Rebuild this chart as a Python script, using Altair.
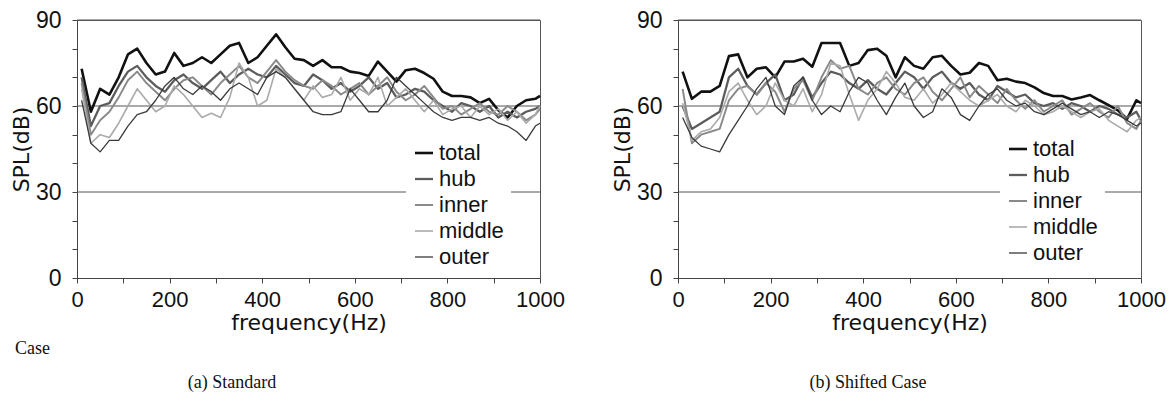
import altair as alt
import pandas as pd

FREQ = list(range(10, 1000, 20)) + [1000]
SERIES = ["total", "hub", "inner", "middle", "outer"]
COLORS = ["#111111", "#5c5c5c", "#8a8a8a", "#ababab", "#3a3a3a"]
WIDTHS = [2.6, 1.3, 1.3, 1.3, 1.7]
GRID = [30, 60, 90]
X_TICKS = list(range(0, 1001, 100))
Y_TICKS = list(range(0, 91, 10))

# (a) Standard
A_TOTAL = [73, 58, 66, 64, 70, 78, 80, 75, 71, 72,
           78.5, 74, 75, 77, 75, 78, 81, 82, 75, 77,
           81, 85, 80.5, 76.5, 76, 74, 76, 73.5, 73.5, 72,
           71.5, 70.5, 75.5, 72, 68.5, 72.5, 73, 71.5, 69.5, 65,
           63.5, 63.5, 63, 61, 62.5, 58.5, 56, 60, 62, 62.5, 63.5]
A_HUB = [70, 53, 60, 61, 67, 72, 74, 70, 67, 65,
         69, 71, 68, 66, 69, 72, 68, 71, 73, 71,
         70, 74, 71, 68, 67, 71, 69, 66, 68, 65,
         67, 70, 66, 68, 63, 64, 66, 65, 62, 60,
         58, 61, 60, 58, 60, 56, 58, 56, 58, 59, 60]
A_INNER = [68, 50, 55, 58, 63, 69, 72, 68, 65, 62,
           66, 69, 70, 67, 64, 68, 71, 74, 70, 68,
           72, 76, 72, 69, 67, 66, 69, 67, 64, 66,
           68, 64, 67, 70, 65, 62, 64, 67, 63, 59,
           60, 57, 59, 61, 58, 57, 60, 58, 55, 57, 59]
A_MIDDLE = [66, 47, 50, 49, 54, 60, 66, 62, 58, 60,
            67, 64, 60, 56, 57.5, 56, 63, 75, 70, 60,
            62, 73, 70, 66, 62, 67, 63, 64, 70, 62,
            66, 64, 70, 60, 63, 66, 62, 58, 62, 57,
            59, 60, 56, 60, 57, 59, 55, 58, 54, 57, 60]
A_OUTER = [62, 47, 44, 48, 48, 53, 57, 58, 62, 67,
           70, 66, 64, 67, 65, 62, 66, 68, 66, 64,
           70, 72, 70, 66, 62, 58, 57, 57, 58, 66,
           62, 58, 58, 62, 70, 67, 64, 61, 58, 56,
           55, 56, 56, 55, 56, 54, 53, 51, 48, 53, 54]

# (b) Shifted Case
B_TOTAL = [72, 62.5, 65, 65, 67, 77.4, 78, 70, 73, 73.5,
           70, 75.5, 75.5, 76.5, 73.7, 82, 82, 82, 74, 75,
           79.5, 80, 77.5, 70, 77, 74, 73, 77, 77.5, 74,
           71, 71.6, 75, 74, 69, 69.5, 68.5, 68, 66.5, 64.5,
           63.5, 63.5, 62.3, 63, 63.8, 62, 60.3, 58.5, 55.5, 62, 61]
B_HUB = [60, 52, 54, 56, 58, 70, 73, 67, 64, 68,
         71, 62, 64, 70, 63, 68, 72, 71, 68, 66,
         69, 66, 64, 68, 72, 70, 66, 70, 72, 68,
         66, 68, 64, 62, 67, 65, 63, 64, 61, 60,
         61, 59, 61, 60, 58, 60, 59, 57, 56, 58, 55]
B_INNER = [66, 47, 50, 51, 52, 62, 66, 67, 64, 68,
           65, 58, 66, 69, 62, 70, 76, 73, 74, 66,
           64, 68, 70, 66, 64, 68, 70, 65, 62, 66,
           70, 63, 67, 64, 61, 66, 62, 59, 62, 58,
           60, 62, 57, 59, 61, 58, 56, 60, 54, 52, 55]
B_MIDDLE = [61, 48, 51, 52, 56, 65, 68, 62, 57, 60,
            68, 62, 60, 66, 58, 64, 75, 74, 64, 55,
            62, 66, 72, 68, 63, 62, 66, 61, 64, 68,
            65, 62, 60, 62, 64, 60, 58, 62, 60, 57,
            58, 60, 58, 56, 58, 59, 55, 53, 51, 55, 56]
B_OUTER = [56, 49, 46, 45, 44, 50, 55, 60, 66, 70,
           60, 57, 67, 70, 62, 57, 60, 58, 65, 70,
           68, 62, 57, 63, 68, 60, 56, 58, 66, 63,
           57, 55, 60, 64, 66, 62, 60, 61, 58, 57,
           59, 61, 59, 57, 58, 56, 58, 57, 55, 53, 54]


def panel(values, captions, legend_x, legend_y):
    rows = []
    for name, arr in zip(SERIES, values):
        for f, v in zip(FREQ, arr):
            rows.append({"series": name, "freq": f, "spl": v})
    df = pd.DataFrame(rows)

    yscale = alt.Scale(domain=[0, 90], nice=False)
    xscale = alt.Scale(domain=[0, 1000], nice=False)
    yaxis = alt.Axis(
        values=Y_TICKS, title="SPL(dB)", grid=False, labelFlush=False,
        labelExpr="datum.value % 30 === 0 ? '' + datum.value : ''",
        labelFontSize=23, labelPadding=11, titlePadding=2)
    xaxis = alt.Axis(
        values=X_TICKS, title="frequency(Hz)", grid=False, labelFlush=False,
        labelExpr="datum.value % 200 === 0 ? '' + datum.value : ''",
        labelFontSize=22, labelPadding=6, titlePadding=2)

    grid = alt.Chart(pd.DataFrame({"g": GRID})).mark_rule(
        color="#555555", strokeWidth=1
    ).encode(y=alt.Y("g:Q", scale=yscale, axis=yaxis))

    leg = dict(
        orient="none", legendX=legend_x, legendY=legend_y, title=None,
        fillColor="white", padding=7, symbolType="stroke", symbolSize=324,
        labelFont="Liberation Sans", labelFontSize=22, labelColor="#111111",
        labelOffset=4, rowPadding=4,
    )

    lines = alt.Chart(df).mark_line(strokeJoin="round").encode(
        x=alt.X("freq:Q", scale=xscale, axis=xaxis),
        y=alt.Y("spl:Q", scale=yscale, axis=yaxis),
        color=alt.Color("series:N", scale=alt.Scale(domain=SERIES, range=COLORS),
                        legend=alt.Legend(**leg)),
        strokeWidth=alt.StrokeWidth("series:N", scale=alt.Scale(domain=SERIES, range=WIDTHS),
                                    legend=alt.Legend(**leg)),
    )

    layers = [grid, lines]
    for text, px, py, align in captions:
        layers.append(
            alt.Chart(pd.DataFrame({"t": [text]})).mark_text(
                font="Liberation Serif", fontSize=18, align=align,
                baseline="middle", color="#111111"
            ).encode(text="t:N", x=alt.value(px), y=alt.value(py))
        )
    return alt.layer(*layers).properties(width=463, height=258)


left = panel([A_TOTAL, A_HUB, A_INNER, A_MIDDLE, A_OUTER],
             [("Case", -62, 329, "left"), ("(a) Standard", 155, 363, "center")],
             329, 115)
right = panel([B_TOTAL, B_HUB, B_INNER, B_MIDDLE, B_OUTER],
              [("(b) Shifted Case", 190, 363, "center")],
              322, 111)

chart = alt.hconcat(left, right, spacing=45).resolve_scale(
    color="independent", strokeWidth="independent"
).resolve_legend(
    color="independent", strokeWidth="independent"
).properties(
    padding={"left": 1, "top": 0, "right": 0, "bottom": 4}
).configure_view(
    stroke="#555555", strokeWidth=1
).configure_axis(
    labelFont="Liberation Sans", labelColor="#111111",
    titleFont="DejaVu Sans", titleFontSize=22, titleFontWeight="normal",
    titleColor="#111111", tickSize=5, tickColor="#444444", domainColor="#444444",
)

chart.save("out.html", embed_options={"renderer": "svg", "actions": False})
